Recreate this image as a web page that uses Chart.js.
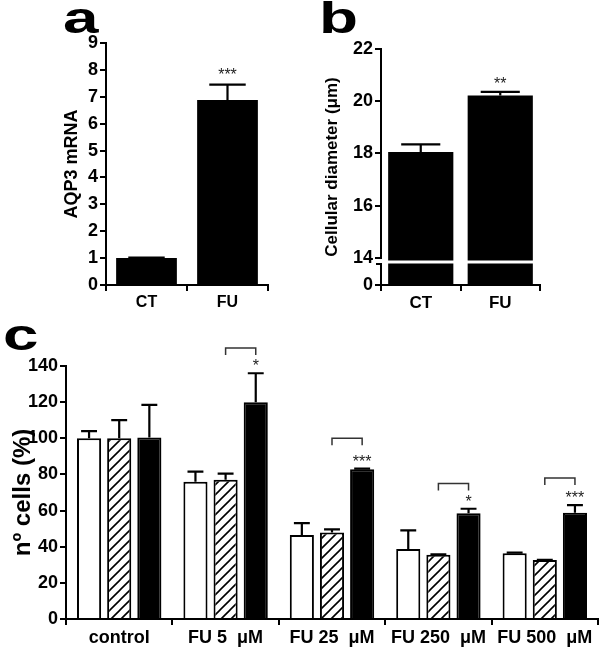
<!DOCTYPE html>
<html>
<head>
<meta charset="utf-8">
<script src="https://cdn.jsdelivr.net/npm/chart.js@4.4.1/dist/chart.umd.min.js"></script>
<style>
  body { margin: 0; background: #fff; }
  #fig { position: relative; width: 600px; height: 651px; overflow: hidden; }
  canvas { position: absolute; }
  .panel { position: absolute; font: bold 44px "Liberation Sans", Arial, sans-serif; line-height: 44px; transform: scaleX(1.45); transform-origin: 0 0; }
</style>
</head>
<body>
<div id="fig">
  <canvas id="chartA" width="300" height="320" style="left:0;top:0"></canvas>
  <canvas id="chartB" width="300" height="320" style="left:300px;top:0"></canvas>
  <canvas id="chartC" width="600" height="331" style="left:0;top:320px"></canvas>
  <div class="panel" style="left:63px;top:-4px">a</div>
  <div class="panel" style="left:319px;top:-4px">b</div>
  <div class="panel" style="left:3px;top:313px">c</div>
</div>
<script>
// panel a
const aCategories = ["CT", "FU"]
const aValues = [1.0, 6.88]
const aErrors = [0.02, 0.57]
const aStars = ["", "***"]
const aTicks = [0, 1, 2, 3, 4, 5, 6, 7, 8, 9]

// panel b (broken axis: the "0" tick sits at bBreakMin)
const bCategories = ["CT", "FU"]
const bValues = [18.05, 20.22]
const bErrors = [0.3, 0.14]
const bStars = ["", "**"]
const bTicks = [14, 16, 18, 20, 22]
const bBreakMin = 12.96

// panel c
const cCategories = ["control", "FU 5  μM", "FU 25  μM", "FU 250  μM", "FU 500  μM"]
const cWhite = [100, 76, 46.5, 38.7, 36.4]
const cWhiteErr = [4, 5.5, 6.5, 10.3, 0.3]
const cHatched = [100, 77, 47.8, 35.6, 32.6]
const cHatchedErr = [10, 3.4, 1.8, 0.2, 0.2]
const cBlack = [100.5, 120, 82.8, 58.5, 58.8]
const cBlackErr = [18, 16, 0.4, 2.5, 4.2]
const cStars = ["", "*", "***", "*", "***"]
const cBracketLevels = [null, 150, 100, 75, 78]
const cTicks = [0, 20, 40, 60, 80, 100, 120, 140]

const FONT = "'Liberation Sans', Arial, sans-serif"

const hatch = (() => {
  const s = 10
  const c = document.createElement("canvas")
  c.width = s
  c.height = s
  const g = c.getContext("2d")
  g.fillStyle = "#fff"
  g.fillRect(0, 0, s, s)
  g.strokeStyle = "#000"
  g.lineWidth = 1.6
  g.beginPath()
  g.moveTo(0, s); g.lineTo(s, 0)
  g.moveTo(-2, 2); g.lineTo(2, -2)
  g.moveTo(s - 2, s + 2); g.lineTo(s + 2, s - 2)
  g.stroke()
  return g.createPattern(c, "repeat")
})()

const errorBars = {
  id: "errorBars",
  afterDatasetsDraw(chart, args, opts) {
    const {ctx} = chart
    const y = chart.scales.y
    chart.data.datasets.forEach((ds, i) => {
      if (!ds.errors) return
      chart.getDatasetMeta(i).data.forEach((bar, j) => {
        const top = y.getPixelForValue(ds.data[j] + ds.errors[j])
        const half = bar.width * opts.cap
        ctx.save()
        ctx.strokeStyle = "#000"
        ctx.lineWidth = 2.2
        ctx.beginPath()
        ctx.moveTo(bar.x, bar.y)
        ctx.lineTo(bar.x, top)
        ctx.moveTo(bar.x - half, top)
        ctx.lineTo(bar.x + half, top)
        ctx.stroke()
        ctx.restore()
      })
    })
  }
}

const stars = {
  id: "stars",
  afterDatasetsDraw(chart, args, opts) {
    const {ctx} = chart
    const y = chart.scales.y
    const ds = chart.data.datasets[opts.dataset]
    const meta = chart.getDatasetMeta(opts.dataset)
    ctx.save()
    ctx.fillStyle = "#222"
    ctx.font = `16px ${FONT}`
    ctx.textAlign = "center"
    ctx.textBaseline = "alphabetic"
    opts.marks.forEach((m, j) => {
      if (!m) return
      const bar = meta.data[j]
      const top = y.getPixelForValue(ds.data[j] + ds.errors[j])
      ctx.fillText(m, bar.x, top - opts.gap)
    })
    ctx.restore()
  }
}

const brackets = {
  id: "brackets",
  afterDatasetsDraw(chart, args, opts) {
    const {ctx} = chart
    const y = chart.scales.y
    const from = chart.getDatasetMeta(opts.from).data
    const to = chart.getDatasetMeta(opts.to).data
    ctx.save()
    ctx.strokeStyle = "#333"
    ctx.lineWidth = 1.5
    opts.levels.forEach((lvl, j) => {
      if (lvl == null) return
      const py = y.getPixelForValue(lvl)
      ctx.beginPath()
      ctx.moveTo(from[j].x, py + 7)
      ctx.lineTo(from[j].x, py)
      ctx.lineTo(to[j].x, py)
      ctx.lineTo(to[j].x, py + 7)
      ctx.stroke()
    })
    ctx.restore()
  }
}

const axisBreak = {
  id: "axisBreak",
  afterDraw(chart, args, opts) {
    const {ctx, chartArea} = chart
    const y = chart.scales.y
    const cut = y.getPixelForValue(opts.at)
    ctx.save()
    ctx.strokeStyle = "#fff"
    ctx.lineWidth = 3
    ctx.beginPath()
    ctx.moveTo(chartArea.left + 2, cut)
    ctx.lineTo(chartArea.right, cut)
    ctx.stroke()
    ctx.fillStyle = "#fff"
    ctx.fillRect(chartArea.left - 2, cut - 3, 4, 5)
    ctx.strokeStyle = "#000"
    ctx.lineWidth = 2
    ctx.beginPath()
    ctx.moveTo(chartArea.left - 5, cut + 2)
    ctx.lineTo(chartArea.left + 1, cut + 2)
    ctx.stroke()
    ctx.restore()
  }
}

const axisStyle = (size) => ({
  border: {display: true, color: "#000", width: 2},
  grid: {drawOnChartArea: false, drawTicks: true, tickLength: 6, color: "#000", lineWidth: 2},
  ticks: {color: "#000", padding: 2, font: {family: FONT, weight: "bold", size}}
})

const yTitle = (text, size) => ({
  display: true, text, color: "#000", padding: {top: 4, bottom: 4},
  font: {family: FONT, weight: "bold", size}
})

// a
new Chart(document.getElementById("chartA"), {
  type: "bar",
  data: {
    labels: aCategories,
    datasets: [{label: "AQP3 mRNA", data: aValues, errors: aErrors, backgroundColor: "#000", barPercentage: 0.75, categoryPercentage: 1}]
  },
  plugins: [errorBars, stars],
  options: {
    responsive: false,
    animation: false,
    layout: {padding: {left: 57, right: 32, top: 43, bottom: 0}},
    plugins: {
      legend: {display: false}, tooltip: {enabled: false},
      errorBars: {cap: 0.3},
      stars: {dataset: 0, marks: aStars, gap: 5}
    },
    scales: {
      x: {...axisStyle(16), afterFit: (s) => { s.height = 35 }},
      y: {
        ...axisStyle(18), min: 0, max: 9,
        afterBuildTicks: (s) => { s.ticks = aTicks.map(v => ({value: v})) },
        afterFit: (s) => { s.width = 49 },
        title: yTitle("AQP3 mRNA", 18)
      }
    }
  }
})

// b
new Chart(document.getElementById("chartB"), {
  type: "bar",
  data: {
    labels: bCategories,
    datasets: [{label: "Cellular diameter", data: bValues, errors: bErrors, base: bBreakMin, backgroundColor: "#000", barPercentage: 0.82, categoryPercentage: 1}]
  },
  plugins: [errorBars, stars, axisBreak],
  options: {
    responsive: false,
    animation: false,
    layout: {padding: {left: 18, right: 60, top: 49, bottom: 0}},
    plugins: {
      legend: {display: false}, tooltip: {enabled: false},
      errorBars: {cap: 0.3},
      stars: {dataset: 0, marks: bStars, gap: 3},
      axisBreak: {at: 13.84}
    },
    scales: {
      x: {...axisStyle(17), afterFit: (s) => { s.height = 35 }},
      y: {
        ...axisStyle(18), min: bBreakMin, max: 22,
        afterBuildTicks: (s) => { s.ticks = [bBreakMin, ...bTicks].map(v => ({value: v})) },
        ticks: {...axisStyle(18).ticks, callback: (v) => v === bBreakMin ? "0" : v},
        afterFit: (s) => { s.width = 63 },
        title: yTitle("Cellular diameter (μm)", 17)
      }
    }
  }
})

// c
new Chart(document.getElementById("chartC"), {
  type: "bar",
  data: {
    labels: cCategories,
    datasets: [
      {label: "white", data: cWhite, errors: cWhiteErr, backgroundColor: "#fff", borderColor: "#000", borderWidth: 2},
      {label: "hatched", data: cHatched, errors: cHatchedErr, backgroundColor: hatch, borderColor: "#000", borderWidth: 2},
      {label: "black", data: cBlack, errors: cBlackErr, backgroundColor: "#000", borderColor: "#000", borderWidth: 2}
    ].map(d => ({...d, barPercentage: 0.8, categoryPercentage: 0.85, borderSkipped: "bottom"}))
  },
  plugins: [errorBars, stars, brackets],
  options: {
    responsive: false,
    animation: false,
    layout: {padding: {left: 5, right: 2, top: 46, bottom: 0}},
    plugins: {
      legend: {display: false}, tooltip: {enabled: false},
      errorBars: {cap: 0.33},
      stars: {dataset: 2, marks: cStars, gap: 2},
      brackets: {from: 1, to: 2, levels: cBracketLevels}
    },
    scales: {
      x: {...axisStyle(18), afterFit: (s) => { s.height = 32 }},
      y: {
        ...axisStyle(18), min: 0, max: 140,
        afterBuildTicks: (s) => { s.ticks = cTicks.map(v => ({value: v})) },
        afterFit: (s) => { s.width = 61 },
        title: yTitle("nº cells (%)", 24)
      }
    }
  }
})
</script>
</body>
</html>
